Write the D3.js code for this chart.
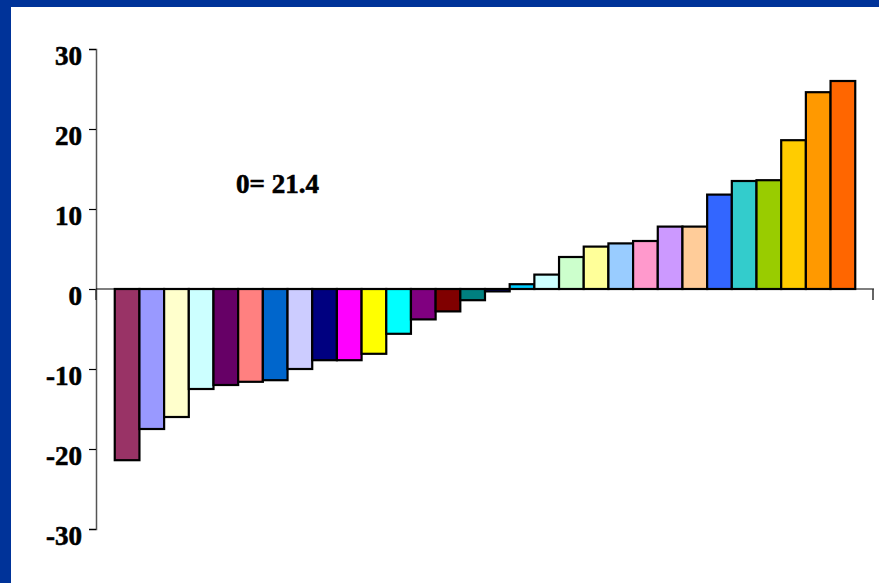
<!DOCTYPE html>
<html>
<head>
<meta charset="utf-8">
<script src="https://cdn.jsdelivr.net/npm/d3@7"></script>
<style>
  html, body { margin: 0; padding: 0; background: #ffffff; }
  svg { display: block; }
</style>
</head>
<body>
<script>
// ---- data ----
const categories = d3.range(1, 31).map(String);
const values = [-21.4, -17.5, -16.0, -12.5, -12.0, -11.6, -11.4, -10.0, -8.9, -8.9,
                -8.1, -5.6, -3.8, -2.8, -1.4, -0.3, 0.6, 1.8, 4.0, 5.3,
                5.7, 6.0, 7.8, 7.8, 11.8, 13.5, 13.6, 18.6, 24.6, 26.0];
const colors = ["#993366", "#9999FF", "#FFFFCC", "#CCFFFF", "#660066", "#FF8080", "#0066CC", "#CCCCFF", "#000080", "#FF00FF",
                "#FFFF00", "#00FFFF", "#800080", "#800000", "#008080", "#0000FF", "#00CCFF", "#CCFFFF", "#CCFFCC", "#FFFF99",
                "#99CCFF", "#FF99CC", "#CC99FF", "#FFCC99", "#3366FF", "#33CCCC", "#99CC00", "#FFCC00", "#FF9900", "#FF6600"];
const yTicks = [30, 20, 10, 0, -10, -20, -30];
const yTickLabels = ["30", "20", "10", "0", "-10", "-20", "-30"];
const annotation = "0= 21.4";

// ---- layout ----
const W = 879, H = 583;
const svg = d3.select("body").append("svg").attr("width", W).attr("height", H);

// blue frame
svg.append("rect").attr("x", 0).attr("y", 0).attr("width", W).attr("height", 7).attr("fill", "#003399");
svg.append("rect").attr("x", 0).attr("y", 0).attr("width", 11).attr("height", H).attr("fill", "#003399");

const xLeft = 96, xRight = 874;
const x = d3.scaleBand().domain(categories).range([xLeft, xRight]).paddingInner(0).paddingOuter(0.76);
const y = d3.scaleLinear().domain([-30, 30]).range([529, 49]);

const fontFam = "'Liberation Serif', 'Times New Roman', serif";

// y axis
const yAxis = d3.axisLeft(y).tickValues(yTicks).tickSize(7)
  .tickFormat(d => yTickLabels[yTicks.indexOf(d)]);
const gy = svg.append("g").attr("transform", `translate(${xLeft},0)`).call(yAxis);
gy.select(".domain").attr("stroke", "#555").attr("stroke-width", 1.5);
gy.selectAll(".tick line").attr("stroke", "#000").attr("stroke-width", 1.2);
gy.selectAll(".tick text")
  .attr("x", -14).attr("dy", "0.58em")
  .attr("font-family", fontFam)
  .attr("font-weight", "bold").attr("font-size", 27).attr("fill", "#000")
  .attr("stroke", "#000").attr("stroke-width", 0.6);

// bars
svg.append("g").selectAll("rect").data(values).join("rect")
  .attr("x", (d, i) => x(categories[i]))
  .attr("width", x.bandwidth())
  .attr("y", d => y(Math.max(0, d)))
  .attr("height", d => Math.abs(y(d) - y(0)))
  .attr("fill", (d, i) => colors[i])
  .attr("stroke", "#000").attr("stroke-width", 2.2);

// x axis (zero line) with end ticks
const xAxisG = svg.append("g");
xAxisG.append("line").attr("x1", xLeft).attr("x2", xRight).attr("y1", y(0)).attr("y2", y(0))
  .attr("stroke", "#000").attr("stroke-width", 1.2);
[xLeft, xRight - 1].forEach(px => {
  xAxisG.append("line").attr("x1", px).attr("x2", px).attr("y1", y(0)).attr("y2", y(0) + 11)
    .attr("stroke", "#333").attr("stroke-width", 1.5);
});

// annotation
svg.append("text").attr("x", 236).attr("y", 193)
  .attr("font-family", fontFam)
  .attr("font-weight", "bold").attr("font-size", 27).attr("fill", "#000")
  .attr("stroke", "#000").attr("stroke-width", 0.6)
  .text(annotation);
</script>
</body>
</html>
